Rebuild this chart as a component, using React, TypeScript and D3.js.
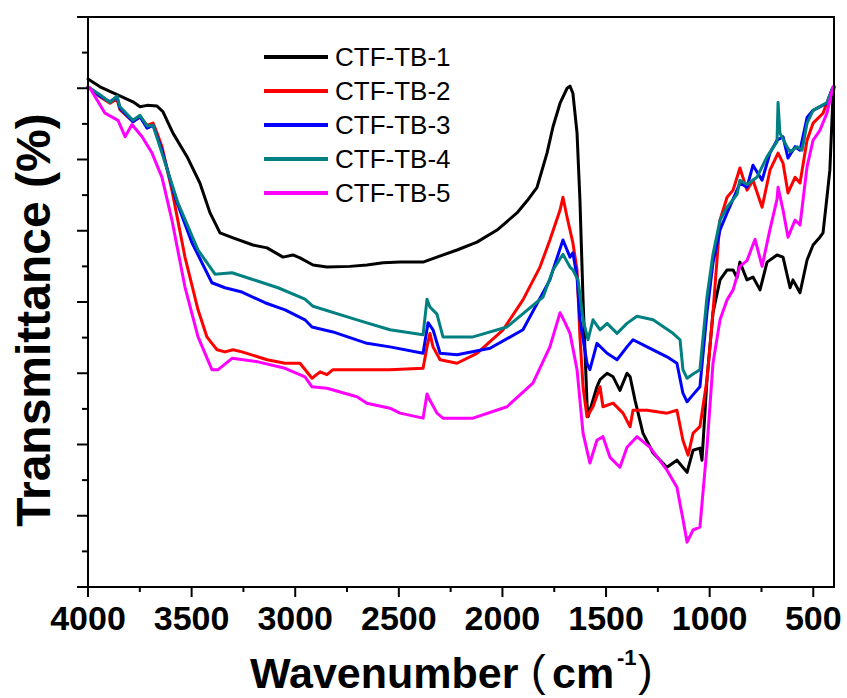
import React from "react";
import * as d3 from "d3";

const seriesNames = ["CTF-TB-1", "CTF-TB-2", "CTF-TB-3", "CTF-TB-4", "CTF-TB-5"];
const seriesColors = ["#000000", "#ff0000", "#0000ff", "#008080", "#ff00ff"];

const xTickLabels = [4000, 3500, 3000, 2500, 2000, 1500, 1000, 500];

const ctf1: [number, number][] = [
  [4000, 71.3], [3942, 70.2], [3860, 69.1], [3783, 68.1], [3749, 67.4], [3715, 67.6], [3667, 67.5], [3638, 66.7],
  [3590, 63.7], [3522, 60.4], [3460, 56.7], [3411, 52.5], [3363, 49.7], [3300, 49.0], [3204, 48.0], [3136, 47.6],
  [3059, 46.3], [3011, 46.6], [2977, 46.2], [2914, 45.2], [2847, 44.9], [2736, 45.0], [2654, 45.2], [2576, 45.5],
  [2494, 45.6], [2383, 45.6], [2316, 46.3], [2219, 47.3], [2123, 48.4], [2026, 50.1], [1930, 52.5], [1881, 54.2],
  [1833, 56.1], [1785, 60.9], [1756, 64.6], [1722, 67.9], [1688, 70.0], [1674, 70.3], [1660, 69.3], [1640, 63.7],
  [1626, 54.3], [1611, 40.3], [1592, 25.8], [1587, 23.9], [1544, 28.1], [1529, 29.1], [1495, 30.0], [1466, 29.5],
  [1433, 27.6], [1399, 30.0], [1384, 29.5], [1360, 26.2], [1322, 21.6], [1273, 18.8], [1206, 16.8], [1158, 17.8],
  [1109, 16.1], [1080, 19.2], [1047, 19.5], [1037, 17.8], [1013, 29.1], [984, 38.5], [950, 43.1], [916, 44.5],
  [887, 44.5], [868, 43.4], [854, 45.6], [820, 43.1], [791, 43.5], [757, 41.7], [723, 45.6], [675, 46.6],
  [646, 46.3], [612, 42.0], [598, 43.1], [564, 41.3], [530, 45.9], [501, 48.0], [468, 49.1], [453, 49.7],
  [434, 54.7], [420, 58.5], [405, 68.8], [400, 70.2],
];

const ctf2: [number, number][] = [
  [4000, 70.2], [3942, 68.8], [3894, 67.9], [3860, 68.5], [3846, 67.0], [3783, 65.3], [3749, 66.0], [3715, 64.8],
  [3686, 65.1], [3667, 63.7], [3643, 61.8], [3595, 55.7], [3532, 46.3], [3469, 38.9], [3426, 35.1], [3402, 34.2],
  [3377, 33.3], [3339, 33.0], [3300, 33.3], [3257, 33.0], [3136, 31.9], [3049, 31.4], [2977, 31.4], [2919, 29.3],
  [2880, 30.2], [2847, 29.8], [2818, 30.5], [2654, 30.5], [2543, 30.5], [2383, 30.7], [2364, 33.7], [2350, 35.6],
  [2335, 33.7], [2301, 31.9], [2219, 31.4], [2123, 32.8], [1997, 36.1], [1901, 40.3], [1819, 44.9], [1771, 48.7],
  [1722, 52.9], [1708, 54.7], [1688, 51.9], [1660, 48.3], [1640, 44.5], [1626, 35.1], [1611, 28.1], [1592, 23.9],
  [1563, 25.3], [1529, 28.1], [1515, 25.3], [1466, 25.8], [1418, 24.4], [1384, 22.5], [1370, 24.8], [1302, 24.8],
  [1206, 24.4], [1158, 24.8], [1129, 20.6], [1104, 18.5], [1080, 21.6], [1047, 22.5], [1013, 29.1], [984, 38.5],
  [950, 51.5], [916, 54.7], [887, 55.7], [854, 58.8], [820, 55.7], [791, 57.1], [747, 53.3], [709, 58.5],
  [670, 60.9], [646, 59.5], [622, 55.3], [588, 57.5], [564, 56.7], [530, 62.7], [501, 65.1], [453, 66.5],
  [410, 69.8], [400, 70.2],
];

const ctf3: [number, number][] = [
  [4000, 70.2], [3942, 68.9], [3894, 68.1], [3860, 68.8], [3846, 67.2], [3783, 65.3], [3749, 66.0], [3715, 64.4],
  [3686, 64.8], [3643, 61.3], [3580, 54.7], [3498, 48.3], [3402, 42.7], [3339, 42.0], [3257, 41.4], [3146, 39.9],
  [3049, 38.9], [2953, 37.5], [2919, 36.5], [2818, 35.8], [2654, 34.2], [2543, 33.7], [2383, 32.8], [2359, 37.1],
  [2335, 36.1], [2301, 32.8], [2219, 32.6], [2060, 33.5], [1901, 36.1], [1771, 43.1], [1756, 44.5], [1708, 48.7],
  [1674, 46.3], [1660, 46.9], [1640, 43.5], [1626, 37.5], [1592, 31.4], [1578, 30.5], [1544, 34.2], [1495, 32.8],
  [1447, 31.9], [1399, 33.7], [1370, 34.7], [1302, 33.7], [1206, 32.3], [1158, 31.4], [1129, 27.2], [1109, 26.0],
  [1080, 27.0], [1047, 28.1], [1013, 38.5], [984, 45.5], [950, 50.1], [916, 52.5], [868, 55.7], [854, 56.7],
  [820, 56.1], [791, 59.2], [747, 57.1], [709, 60.9], [675, 62.7], [646, 63.2], [622, 60.2], [588, 61.8],
  [564, 61.3], [530, 65.9], [501, 66.9], [434, 67.9], [410, 69.8], [400, 70.2],
];

const ctf4: [number, number][] = [
  [4000, 70.2], [3942, 69.1], [3894, 68.0], [3860, 68.9], [3846, 67.4], [3783, 65.5], [3749, 66.2], [3715, 64.7],
  [3686, 64.8], [3643, 60.9], [3566, 53.9], [3469, 47.3], [3387, 43.9], [3305, 44.1], [3209, 43.2], [3083, 42.0],
  [2953, 40.4], [2914, 39.4], [2702, 37.5], [2543, 36.1], [2383, 35.4], [2364, 40.4], [2350, 39.3], [2316, 38.3],
  [2287, 35.1], [2142, 35.1], [1978, 36.5], [1804, 40.7], [1756, 44.5], [1708, 46.7], [1674, 44.9], [1660, 44.5],
  [1635, 43.1], [1611, 37.5], [1587, 34.7], [1563, 37.5], [1529, 36.1], [1495, 37.0], [1447, 35.6], [1399, 37.0],
  [1351, 38.0], [1273, 37.5], [1177, 35.6], [1143, 34.7], [1129, 30.5], [1109, 29.3], [1080, 29.9], [1047, 30.5],
  [1013, 40.7], [984, 46.7], [950, 51.5], [916, 53.3], [868, 55.1], [854, 57.1], [820, 56.5], [772, 57.5],
  [723, 60.4], [675, 62.5], [670, 68.0], [661, 63.7], [627, 61.8], [612, 61.1], [578, 61.8], [554, 61.3],
  [530, 65.1], [501, 66.9], [434, 68.0], [410, 69.8], [400, 70.2],
];

const ctf5: [number, number][] = [
  [4000, 70.2], [3990, 70.0], [3918, 66.5], [3855, 65.5], [3821, 63.2], [3788, 64.9], [3739, 63.2], [3691, 60.9],
  [3643, 57.5], [3595, 51.5], [3532, 42.1], [3469, 35.1], [3402, 30.5], [3372, 30.5], [3305, 32.1], [3180, 31.6],
  [3049, 30.7], [2953, 29.5], [2919, 28.1], [2847, 27.9], [2702, 26.7], [2654, 25.8], [2543, 25.1], [2494, 24.4],
  [2383, 23.7], [2364, 27.1], [2350, 26.2], [2316, 24.4], [2287, 23.7], [2142, 23.7], [1978, 25.3], [1853, 28.6],
  [1771, 33.7], [1722, 38.5], [1698, 37.1], [1674, 35.6], [1640, 30.5], [1611, 21.6], [1578, 17.4], [1544, 20.6],
  [1515, 21.1], [1481, 18.2], [1433, 16.8], [1399, 19.6], [1351, 21.1], [1288, 19.6], [1206, 16.4], [1158, 14.0],
  [1129, 9.5], [1109, 6.3], [1080, 8.0], [1047, 8.4], [1013, 19.6], [984, 31.4], [950, 37.5], [916, 40.3],
  [887, 41.7], [854, 45.0], [820, 45.8], [781, 48.8], [747, 45.0], [709, 50.2], [675, 54.4], [670, 56.1],
  [646, 52.9], [622, 49.1], [588, 51.5], [564, 50.8], [530, 59.0], [501, 62.7], [468, 64.1], [434, 66.5],
  [405, 70.2], [400, 70.2],
];

const allSeries = [ctf1, ctf2, ctf3, ctf4, ctf5];

const W = 847;
const H = 698;
const L = 88, R = 834, T = 17, B = 587;

export default function App() {
  const x = d3.scaleLinear().domain([4000, 400]).range([L, R]);
  const y = d3.scaleLinear().domain([0, 80]).range([B, T]);
  const line = d3
    .line<[number, number]>()
    .x((d) => x(d[0]))
    .y((d) => y(d[1]));

  const xMajor = xTickLabels;
  const xMinor = d3.range(750, 4000, 500);
  const yMajor = d3.range(0, 81, 10);
  const yMinor = d3.range(5, 80, 10);
  const font = "'Liberation Sans', Arial, Helvetica, sans-serif";

  return (
    <svg
      width={W}
      height={H}
      style={{ position: "absolute", left: 0, top: 0, background: "#fff" }}
    >
      <rect x={0} y={0} width={W} height={H} fill="#fff" />
      {allSeries.map((s, i) => (
        <path
          key={i}
          d={line(s) || ""}
          fill="none"
          stroke={seriesColors[i]}
          strokeWidth={3}
          strokeLinejoin="round"
          strokeLinecap="round"
        />
      ))}
      <rect x={L} y={T} width={R - L} height={B - T} fill="none" stroke="#000" strokeWidth={2} />
      {yMajor.map((v) => (
        <line key={"ym" + v} x1={L - 11} x2={L} y1={y(v)} y2={y(v)} stroke="#000" strokeWidth={2} />
      ))}
      {yMinor.map((v) => (
        <line key={"yn" + v} x1={L - 6} x2={L} y1={y(v)} y2={y(v)} stroke="#000" strokeWidth={2} />
      ))}
      {xMajor.map((v) => (
        <g key={"xm" + v}>
          <line x1={x(v)} x2={x(v)} y1={B} y2={B + 10} stroke="#000" strokeWidth={2} />
          <text
            x={x(v)}
            y={630}
            textAnchor="middle"
            fontFamily={font}
            fontWeight="bold"
            fontSize={34}
            fill="#000"
          >
            {v}
          </text>
        </g>
      ))}
      {xMinor.map((v) => (
        <line key={"xn" + v} x1={x(v)} x2={x(v)} y1={B} y2={B + 5} stroke="#000" strokeWidth={2} />
      ))}
      <text x={250} y={688} fontFamily={font} fontWeight="bold" fontSize={43} fill="#000">
        Wavenumber
      </text>
      <text x={531} y={686} fontFamily={font} fontWeight="normal" fontSize={44} fill="#000">
        (
      </text>
      <text x={552} y={688} fontFamily={font} fontWeight="bold" fontSize={43} fill="#000">
        cm
      </text>
      <text x={617} y={665} fontFamily={font} fontWeight="bold" fontSize={22} fill="#000">
        -1
      </text>
      <text x={638} y={686} fontFamily={font} fontWeight="normal" fontSize={44} fill="#000">
        )
      </text>
      <text
        transform={`translate(50, 320) rotate(-90)`}
        textAnchor="middle"
        fontFamily={font}
        fontWeight="bold"
        fontSize={48}
        fill="#000"
      >
        Transmittance (%)
      </text>
      {seriesNames.map((n, i) => {
        const ly = [57, 91, 125, 159, 193][i];
        return (
          <g key={n}>
            <line x1={264} x2={328} y1={ly} y2={ly} stroke={seriesColors[i]} strokeWidth={4} />
            <text x={335} y={ly + 9} fontFamily={font} fontSize={26} fill="#000">
              {n}
            </text>
          </g>
        );
      })}
    </svg>
  );
}
